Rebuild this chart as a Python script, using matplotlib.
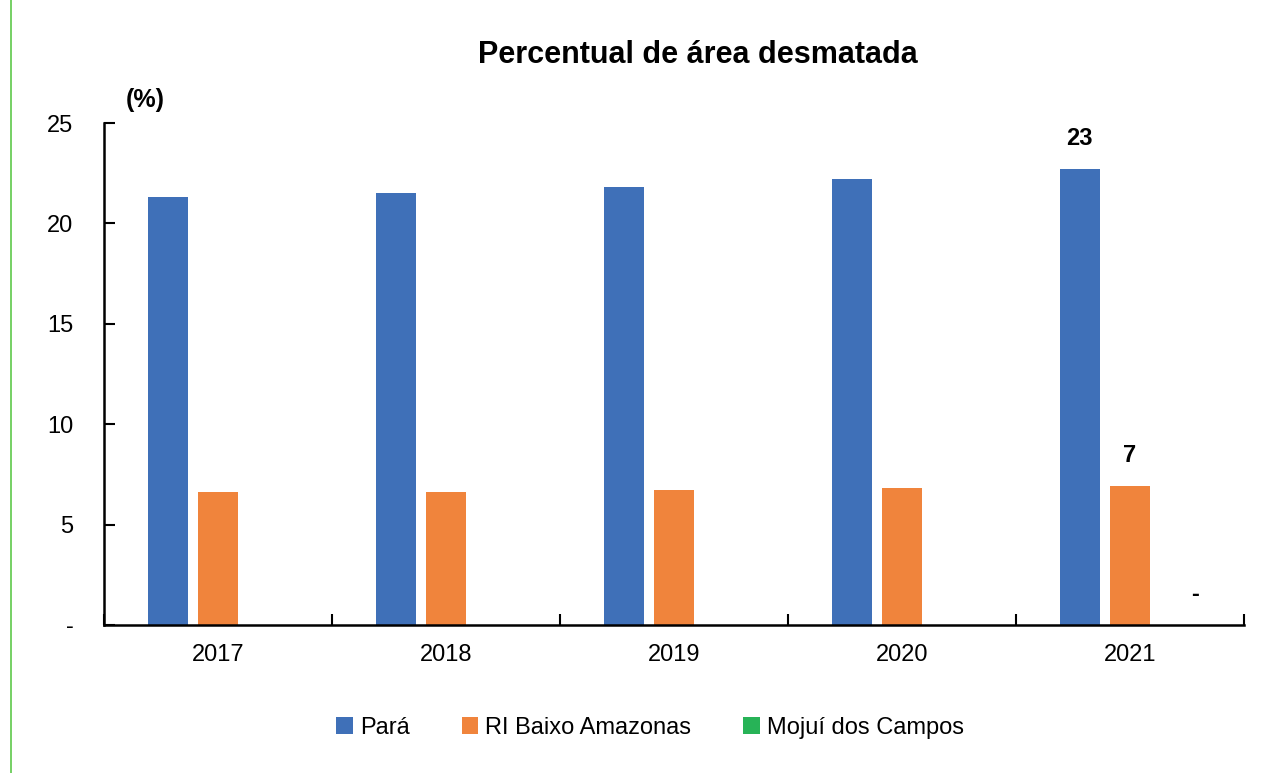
import numpy as np
import matplotlib.pyplot as plt
from matplotlib.lines import Line2D

plt.rcParams['font.family'] = ['Liberation Sans Narrow', 'Liberation Sans', 'DejaVu Sans']

years = ['2017', '2018', '2019', '2020', '2021']
para = [21.3, 21.5, 21.8, 22.2, 22.7]
baixo_amazonas = [6.6, 6.6, 6.7, 6.8, 6.9]
mojui = [0, 0, 0, 0, 0]
series_names = ['Pará', 'RI Baixo Amazonas', 'Mojuí dos Campos']
colors = ['#3F70B8', '#F0843C', '#27B357']

fig = plt.figure(figsize=(12.72, 7.73), dpi=100)
ax = fig.add_axes([104 / 1272, 1 - 625 / 773, 1140 / 1272, (625 - 123) / 773])

x = np.arange(len(years))
width = 0.175
step = 0.22
all_series = [para, baixo_amazonas, mojui]
for k, (vals, name, c) in enumerate(zip(all_series, series_names, colors)):
    ax.bar(x + (k - 1) * step, vals, width, color=c, label=name, zorder=2)
    # only the last year gets a value label
    v = vals[-1]
    txt = f'{v:.0f}' if v > 0 else '-'
    dx = 0 if v > 0 else 11
    ax.annotate(txt, (x[-1] + (k - 1) * step, v), xytext=(dx, 22), textcoords='offset points',
                ha='center', va='center', fontsize=17, fontweight='bold')

ax.set_xlim(-0.5, len(years) - 0.5)
ax.set_ylim(0, 25)

ax.set_xticks(np.arange(-0.5, len(years)), minor=False)
ax.set_xticklabels([])
ax.set_xticks(x, minor=True)
ax.set_xticklabels(years, minor=True, fontsize=17)
ax.tick_params(axis='x', which='major', direction='in', length=8, width=1.5)
ax.tick_params(axis='x', which='minor', length=0, pad=14)

yt = [0, 5, 10, 15, 20, 25]
ax.set_yticks(yt)
ax.set_yticklabels(['-'] + [str(t) for t in yt[1:]], fontsize=17)
ax.tick_params(axis='y', direction='in', length=8, width=1.5, pad=22)

for s in ['top', 'right']:
    ax.spines[s].set_visible(False)
for s in ['left', 'bottom']:
    ax.spines[s].set_linewidth(1.8)

fig.text(698 / 1272, 1 - 55 / 773, 'Percentual de área desmatada', ha='center', va='center',
         fontsize=22, fontweight='bold')
fig.text(145 / 1272, 1 - 100 / 773, '(%)', ha='center', va='center', fontsize=18, fontweight='bold')

fig.legend(loc='center', bbox_to_anchor=(650 / 1272, 1 - 728 / 773), ncol=3, frameon=False,
           fontsize=17, handlelength=0.7, handleheight=0.7, handletextpad=0.3, columnspacing=2.2)

fig.add_artist(Line2D([11 / 1272, 11 / 1272], [0, 1], color='#5DC84A', linewidth=1.2))

fig.savefig('out.png', dpi=100)
